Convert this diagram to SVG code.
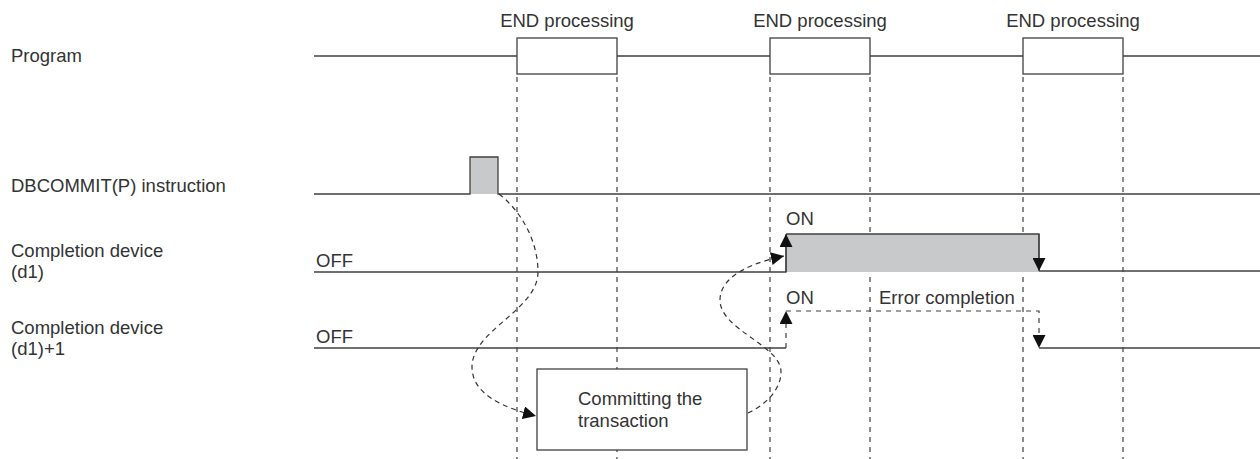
<svg xmlns="http://www.w3.org/2000/svg" width="1260" height="459" viewBox="0 0 1260 459">
<style>
text{font-family:"Liberation Sans",Arial,sans-serif;font-size:18.5px;fill:#333}
.ln{fill:none;stroke:#404040;stroke-width:1.3}
.dash{fill:none;stroke:#404040;stroke-width:1.2;stroke-dasharray:5 5}
.curve{fill:none;stroke:#333;stroke-width:1.2;stroke-dasharray:5 4}
.box{fill:#fff;stroke:#404040;stroke-width:1.3}
.gray{fill:#c8c9cb;stroke:none}
</style>
<defs>
<marker id="ah" viewBox="0 0 12 12" refX="12" refY="6" markerWidth="13" markerHeight="13" markerUnits="userSpaceOnUse" orient="auto">
<path d="M0,0 L12,6 L0,12 Z" fill="#111"/>
</marker>
</defs>

<g id="labels">
<text x="11" y="62">Program</text>
<text x="11" y="192">DBCOMMIT(P) instruction</text>
<text x="11" y="257">Completion device</text>
<text x="11" y="278">(d1)</text>
<text x="11" y="334">Completion device</text>
<text x="11" y="355">(d1)+1</text>
</g>

<g id="guides">
<line class="dash" x1="517" y1="77" x2="517" y2="459"/>
<line class="dash" x1="617" y1="77" x2="617" y2="459"/>
<line class="dash" x1="770" y1="77" x2="770" y2="459"/>
<line class="dash" x1="870" y1="77" x2="870" y2="459"/>
<line class="dash" x1="1023" y1="77" x2="1023" y2="459"/>
<line class="dash" x1="1123" y1="77" x2="1123" y2="459"/>
</g>

<g id="program">
<line class="ln" x1="314" y1="56" x2="1260" y2="56"/>
<rect class="box" x="517" y="38" width="100" height="36"/>
<rect class="box" x="770" y="38" width="100" height="36"/>
<rect class="box" x="1023" y="38" width="100" height="36"/>
<text x="567" y="27" text-anchor="middle">END processing</text>
<text x="820" y="27" text-anchor="middle">END processing</text>
<text x="1073" y="27" text-anchor="middle">END processing</text>
</g>

<g id="dbcommit">
<rect class="gray" x="470" y="157" width="28" height="37"/>
<polyline class="ln" points="314,194 470,194 470,157 498,157 498,194 1260,194"/>
</g>

<g id="d1">
<text x="316" y="267">OFF</text>
<rect class="gray" x="786" y="234" width="253" height="38"/>
<polyline class="ln" points="314,272 786,272 786,240"/>
<polyline class="ln" points="786,234 1039,234 1039,265"/>
<line class="ln" x1="1039" y1="271" x2="1260" y2="271"/>
<text x="786" y="225">ON</text>
</g>

<g id="d1plus1">
<text x="316" y="343">OFF</text>
<line class="ln" x1="314" y1="348" x2="786" y2="348"/>
<line class="ln" x1="1039" y1="348" x2="1260" y2="348"/>
<text x="786" y="304">ON</text>
<text x="879" y="304">Error completion</text>
</g>

<g id="commit">
<rect class="box" x="537" y="369" width="210" height="81"/>
<text x="578" y="405">Committing the</text>
<text x="578" y="427">transaction</text>
</g>

<g id="connectors">
<line class="ln" x1="786" y1="272" x2="786" y2="234" marker-end="url(#ah)"/>
<line class="ln" x1="1039" y1="234" x2="1039" y2="271" marker-end="url(#ah)"/>
<polyline class="dash" points="786,348 786,311" marker-end="url(#ah)"/>
<polyline class="dash" points="786,311 1039,311 1039,348" marker-end="url(#ah)"/>
<path class="curve" d="M499,194 C520,210 538,240 538,272 C538,310 472,330 472,367 C472,395 505,408 536,416" marker-end="url(#ah)"/>
<path class="curve" d="M748,413 C765,405 781,390 781,372 C781,345 720,330 720,300 C720,275 755,262 784,256" marker-end="url(#ah)"/>
</g>
</svg>
